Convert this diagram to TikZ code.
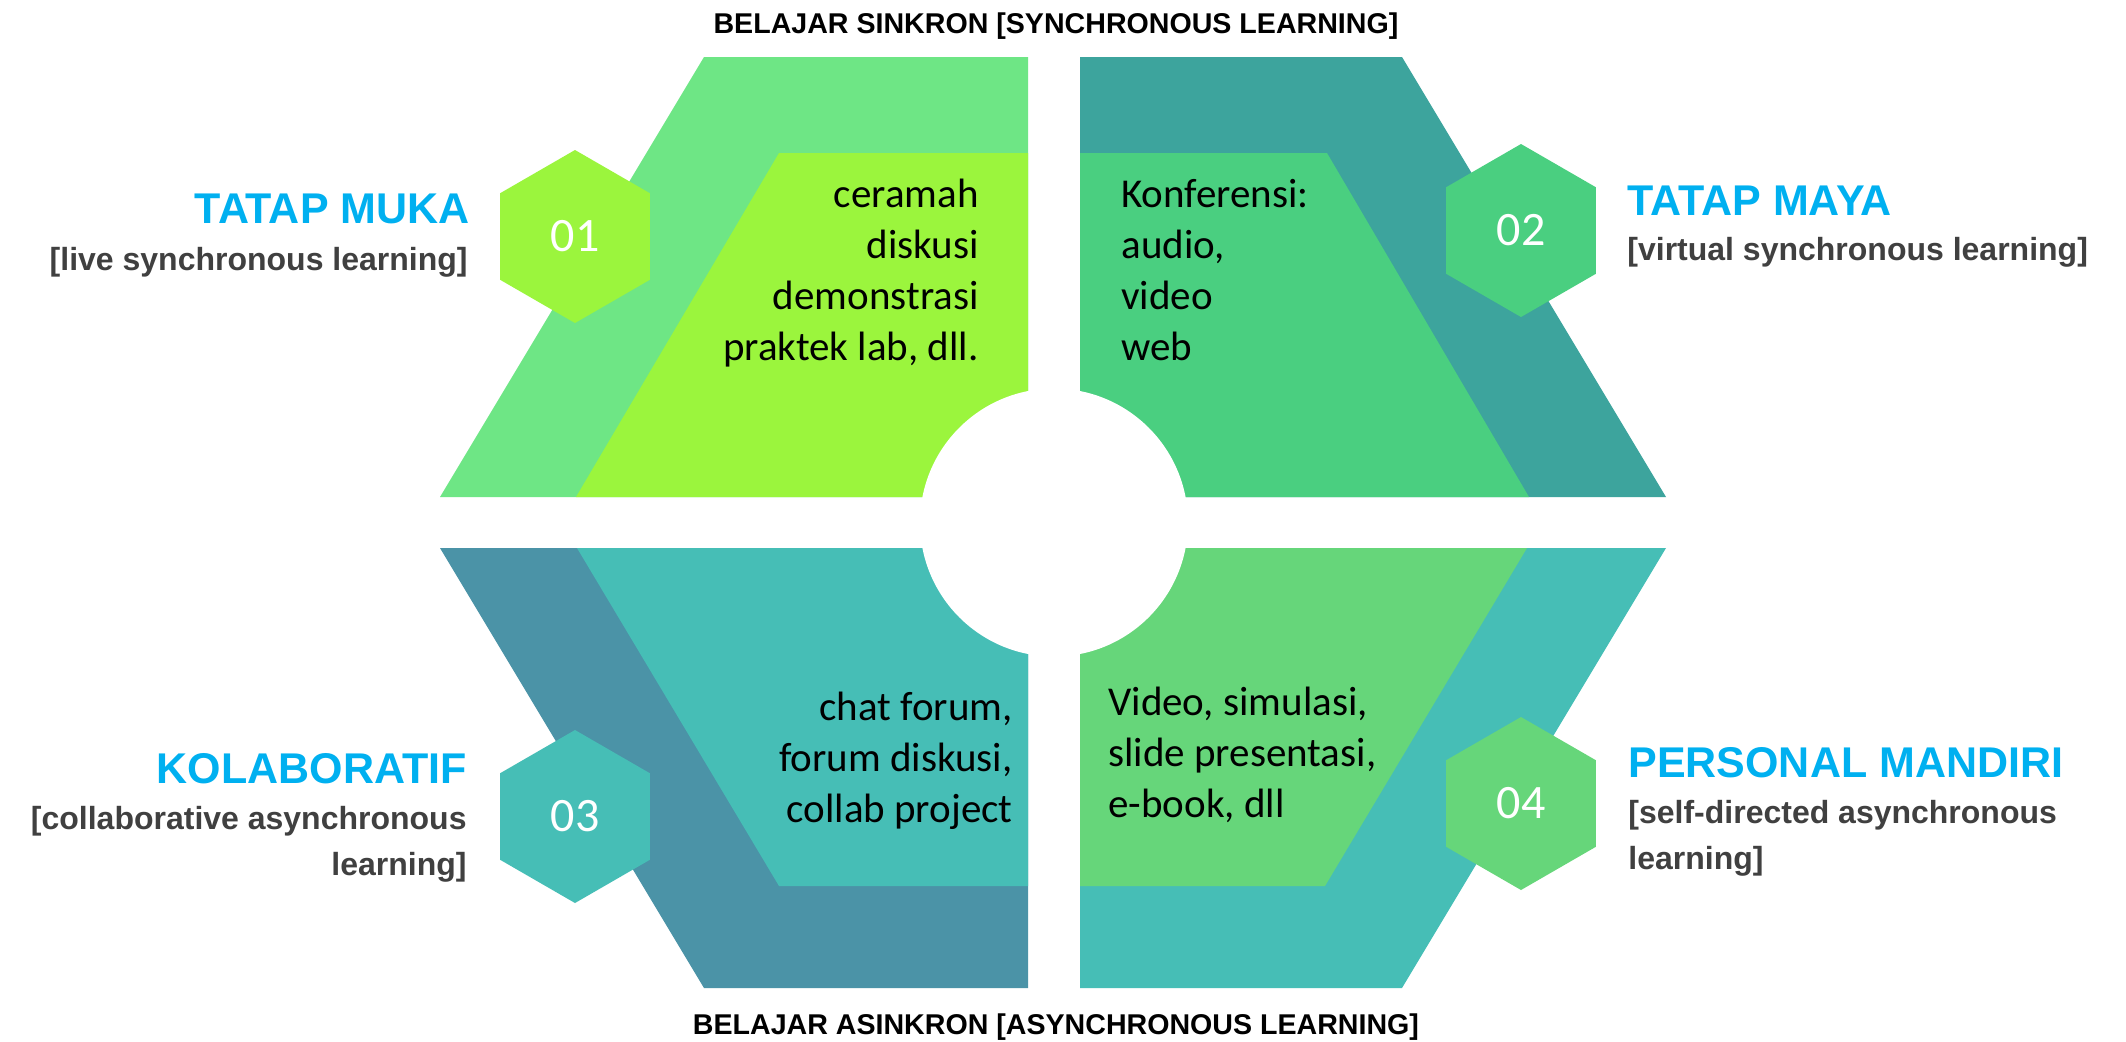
\documentclass[tikz,border=0pt]{standalone}
\usepackage{fontspec}
\setmainfont{Carlito}
\newfontfamily\headfont{Liberation Sans}
\usetikzlibrary{shapes.geometric,positioning}

\definecolor{mukaband}{HTML}{6EE685}
\definecolor{mukapanel}{HTML}{9BF53D}
\definecolor{mayaband}{HTML}{3DA49D}
\definecolor{mayapanel}{HTML}{4ACF80}
\definecolor{kolaband}{HTML}{4B93A7}
\definecolor{kolapanel}{HTML}{46BEB6}
\definecolor{mandiriband}{HTML}{46BEB6}
\definecolor{mandiripanel}{HTML}{66D67A}
\definecolor{titleblue}{HTML}{00B0F0}
\definecolor{subgray}{HTML}{404040}

\begin{document}
\begin{tikzpicture}[
		x=0.5pt, y=-0.5pt,
		hexbox/.style={regular polygon, regular polygon sides=6, shape border rotate=30, minimum size=86.5pt, inner sep=0pt, text=white, font=\fontsize{24}{24}\selectfont},
		heading/.style={inner sep=0pt, font=\headfont\bfseries\fontsize{14.3}{17}\selectfont},
		title/.style={inner sep=0pt, text=titleblue, font=\headfont\bfseries\fontsize{21.5}{26}\selectfont},
		subtitle/.style={inner sep=0pt, text=subgray, font=\headfont\bfseries\fontsize{16}{23}\selectfont},
		bodytext/.style={inner sep=0pt, font=\fontsize{20.5}{25.5}\selectfont},
	]
	\path[use as bounding box, fill=white] (0,0) rectangle (2126,1041);

	% outer bands
	\fill[mukaband] (440,497) -- (704,57) -- (1028,57) -- (1028,497) -- cycle;
	\fill[mayaband] (1080,57) -- (1402,57) -- (1666,497) -- (1080,497) -- cycle;
	\fill[kolaband] (440,548) -- (1028,548) -- (1028,988) -- (704,988) -- cycle;
	\fill[mandiriband] (1080,548) -- (1666,548) -- (1402,988) -- (1080,988) -- cycle;

	% inner panels
	\fill[mukapanel] (576,497) -- (779,153) -- (1028,153) -- (1028,497) -- cycle;
	\fill[mayapanel] (1080,153) -- (1327,153) -- (1529,497) -- (1080,497) -- cycle;
	\fill[kolapanel] (577,548) -- (1028,548) -- (1028,886) -- (779,886) -- cycle;
	\fill[mandiripanel] (1080,548) -- (1527,548) -- (1325,886) -- (1080,886) -- cycle;

	% hole in the middle
	\coordinate (hub) at (1054,522.5);
	\fill[white] (hub) circle[radius=67pt];

	% numbers
	\node[hexbox, fill=mukapanel] (hex muka) at (575,236.5) {01};
	\node[hexbox, fill=mayapanel] (hex maya) at (1521,230.5) {02};
	\node[hexbox, fill=kolapanel] (hex kola) at (575,816.5) {03};
	\node[hexbox, fill=mandiripanel] (hex mandiri) at (1521,803.5) {04};

	\node[heading, anchor=base] (sync head) at (1056,33) {BELAJAR SINKRON [SYNCHRONOUS LEARNING]};
	\node[heading, anchor=base] (async head) at (1056,1034) {BELAJAR ASINKRON [ASYNCHRONOUS LEARNING]};

	\node[title, anchor=base east] (muka title) at (470,223) {TATAP MUKA};
	\node[subtitle, anchor=base east] (muka sub) at (468,270) {[live synchronous learning]};
	\node[title, anchor=base west] (maya title) at (1627,215) {TATAP MAYA};
	\node[subtitle, anchor=base west] (maya sub) at (1627,260) {[virtual synchronous learning]};
	\node[title, anchor=base east] (kola title) at (467,783) {KOLABORATIF};
	\node[subtitle, anchor=base east, align=right] (kola sub) at (467,875) {[collaborative asynchronous\\learning]};
	\node[title, anchor=base west] (mandiri title) at (1628,777) {PERSONAL MANDIRI};
	\node[subtitle, anchor=base west, align=left] (mandiri sub) at (1628,869) {[self-directed asynchronous\\learning]};

	% last line sits on the given baseline
	\node[bodytext, anchor=base east, align=right] (muka text) at (979,360) {ceramah\\diskusi\\demonstrasi\\praktek lab, dll.};
	\node[bodytext, anchor=base west, align=left] (maya text) at (1121,360) {Konferensi:\\audio,\\video\\web};
	\node[bodytext, anchor=base east, align=right] (kola text) at (1013,822) {chat forum,\\forum diskusi,\\collab project};
	\node[bodytext, anchor=base west, align=left] (mandiri text) at (1108,817) {Video, simulasi,\\slide presentasi,\\e-book, dll};
\end{tikzpicture}
\end{document}
